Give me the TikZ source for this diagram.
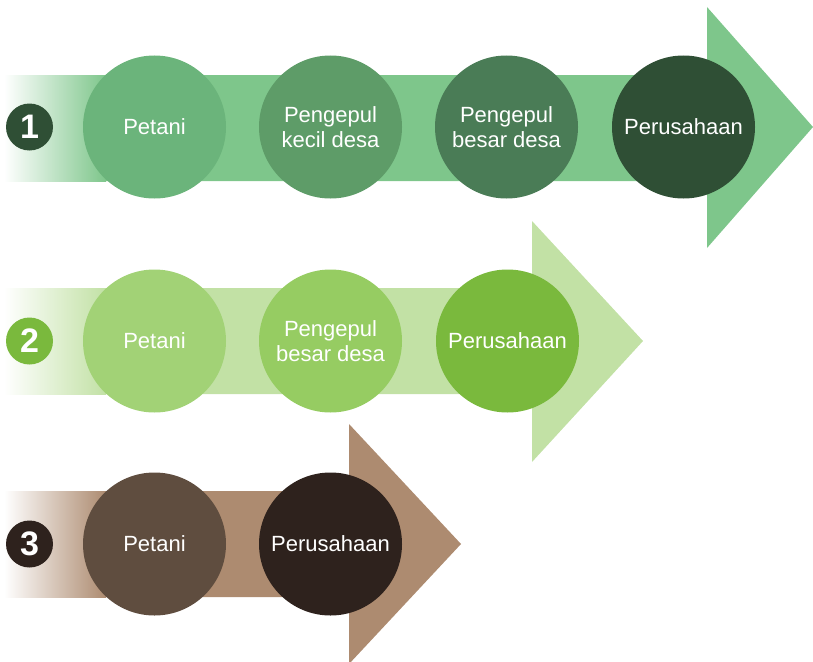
\documentclass[tikz,border=0pt]{standalone}
\usepackage{fontspec}
\setmainfont{Liberation Sans}
\usepackage{tikz}

\definecolor{bandA}{HTML}{7EC68B}
\definecolor{greenA1}{HTML}{6BB47B}
\definecolor{greenA2}{HTML}{5E9C68}
\definecolor{greenA3}{HTML}{4A7C56}
\definecolor{greenA4}{HTML}{2F4F35}
\definecolor{bandB}{HTML}{C2E1A5}
\definecolor{greenB1}{HTML}{A2D276}
\definecolor{greenB2}{HTML}{96CC62}
\definecolor{greenB3}{HTML}{7AB93D}
\definecolor{bandC}{HTML}{AD8B70}
\definecolor{brownC1}{HTML}{5F4D3F}
\definecolor{brownC2}{HTML}{2E221D}

\begin{document}
\begin{tikzpicture}[x=1pt, y=-1pt,
  stage node/.style={circle, minimum size=143pt, inner sep=0pt, align=center, text=white,
    font=\fontsize{22}{25}\selectfont},
  badge node/.style={circle, minimum size=47pt, inner sep=0pt, text=white,
    font=\fontsize{34}{34}\selectfont\bfseries}]

\useasboundingbox (0,0) rectangle (813,661);

% arrow 1
\shade[left color=white, right color=bandA] (4,75) rectangle (106,181);
\fill[bandA] (105,75) -- (707,75) -- (707,7) -- (813,127) -- (707,248) -- (707,181) -- (105,181) -- cycle;

% arrow 2
\shade[left color=white, right color=bandB] (4,288) rectangle (106,394);
\fill[bandB] (105,288) -- (532,288) -- (532,221) -- (643,341) -- (532,462) -- (532,394) -- (105,394) -- cycle;

% arrow 3
\shade[left color=white, right color=bandC] (4,491) rectangle (106,597);
\fill[bandC] (105,491) -- (349,491) -- (349,424) -- (461,544) -- (349,664) -- (349,597) -- (105,597) -- cycle;

\node[badge node, fill=greenA4](n1) at (29.5,127) {1};
\node[stage node, fill=greenA1](a1) at (154.5,127) {Petani};
\node[stage node, fill=greenA2](a2) at (330.5,127) {Pengepul\\kecil desa};
\node[stage node, fill=greenA3](a3) at (506.5,127) {Pengepul\\besar desa};
\node[stage node, fill=greenA4](a4) at (683.5,127) {Perusahaan};

\node[badge node, fill=greenB3](n2) at (29.5,341) {2};
\node[stage node, fill=greenB1](b1) at (154.5,341) {Petani};
\node[stage node, fill=greenB2](b2) at (330.5,341) {Pengepul\\besar desa};
\node[stage node, fill=greenB3](b3) at (507.5,341) {Perusahaan};

\node[badge node, fill=brownC2](n3) at (29.5,544) {3};
\node[stage node, fill=brownC1](c1) at (154.5,544) {Petani};
\node[stage node, fill=brownC2](c2) at (330.5,544) {Perusahaan};

\end{tikzpicture}
\end{document}
